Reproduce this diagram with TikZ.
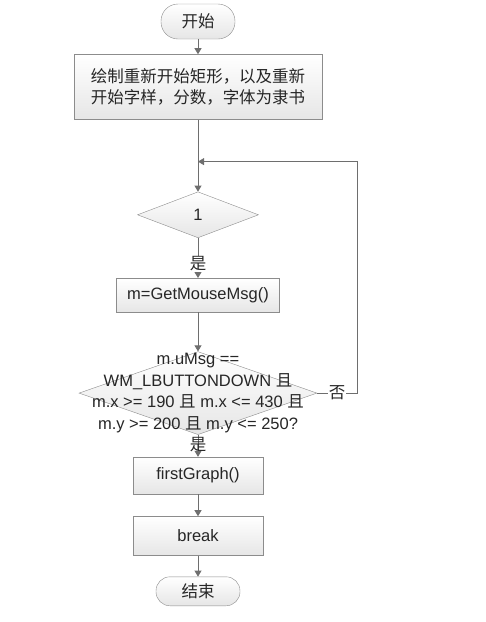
\documentclass[tikz,border=0pt]{standalone}
\usepackage{fontspec}
\setmainfont{Liberation Sans}
\newfontfamily\zh{Noto Sans CJK SC}
\usepackage{tikz}
\usetikzlibrary{arrows.meta,positioning,shapes.geometric,calc}
\definecolor{FlowLine}{HTML}{6E6E6E}
\definecolor{FlowBorder}{HTML}{8C8C8C}
\definecolor{FlowFill}{HTML}{E6E6E6}
\definecolor{FlowText}{HTML}{262626}

\begin{document}
\begin{tikzpicture}[
            x=1pt, y=1pt,
            font=\fontsize{16.5}{21}\selectfont, text=FlowText,
            terminal/.style={draw=FlowBorder, rounded corners=14pt, top color=white, bottom color=FlowFill, inner sep=0pt, align=center},
            process/.style={draw=FlowBorder, top color=white, bottom color=FlowFill, inner sep=4pt, align=center},
            decision/.style={diamond, draw=FlowBorder, top color=white, bottom color=FlowFill, inner sep=0pt},
            arrow/.style={-{Triangle[width=7pt,length=6pt]}, draw=FlowLine, thick},
            tag/.style={fill=white, inner sep=1pt},
        ]
        \useasboundingbox (0,0) rectangle (486,-622);

        \node[terminal, minimum width=74pt, minimum height=35pt, rounded corners=17pt] (start) at (198,-21.5) {\zh 开始};
        \node[process, below=15pt of start, minimum width=248pt, minimum height=65pt] (init) {\zh 绘制重新开始矩形，以及重新\\\zh 开始字样，分数，字体为隶书};
        \node[decision, below=72pt of init, minimum width=121pt, minimum height=46pt] (loop) {};
        \node at (loop) {1};
        \node[process, below=40pt of loop, minimum width=163pt, minimum height=34pt] (msg) {m=GetMouseMsg()};
        \node[decision, below=39pt of msg, minimum width=238pt, minimum height=83pt] (click) {};
        \node[align=center, font=\fontsize{16.5}{21.7}\selectfont] (clicktxt) at (click) {m.uMsg ==\\WM\_LBUTTONDOWN {\zh 且}\\m.x >= 190 {\zh 且} m.x <= 430 {\zh 且}\\m.y >= 200 {\zh 且} m.y <= 250?};
        \node[process, below=22pt of click, minimum width=130pt, minimum height=37pt] (graph) {firstGraph()};
        \node[process, below=22pt of graph, minimum width=130pt, minimum height=39pt] (brk) {break};
        \node[terminal, below=21pt of brk, minimum width=84pt, minimum height=29pt] (stop) {\zh 结束};

        \coordinate[below=42pt of init.south] (merge);

        \draw[arrow] (start) -- (init);
        \draw[arrow] (init) -- (loop);
        \draw[arrow] (loop) -- node[tag, pos=0.65]{\zh 是} (msg);
        \draw[arrow] (msg) -- (click);
        \draw[arrow] (click) -- node[tag, pos=0.45, fill=none]{\zh 是} (graph);
        \draw[arrow] (graph) -- (brk);
        \draw[arrow] (brk) -- (stop);
        \draw[arrow] (click.east) -- node[tag]{\zh 否} ++(40,0) |- (merge);
    \end{tikzpicture}
\end{document}
